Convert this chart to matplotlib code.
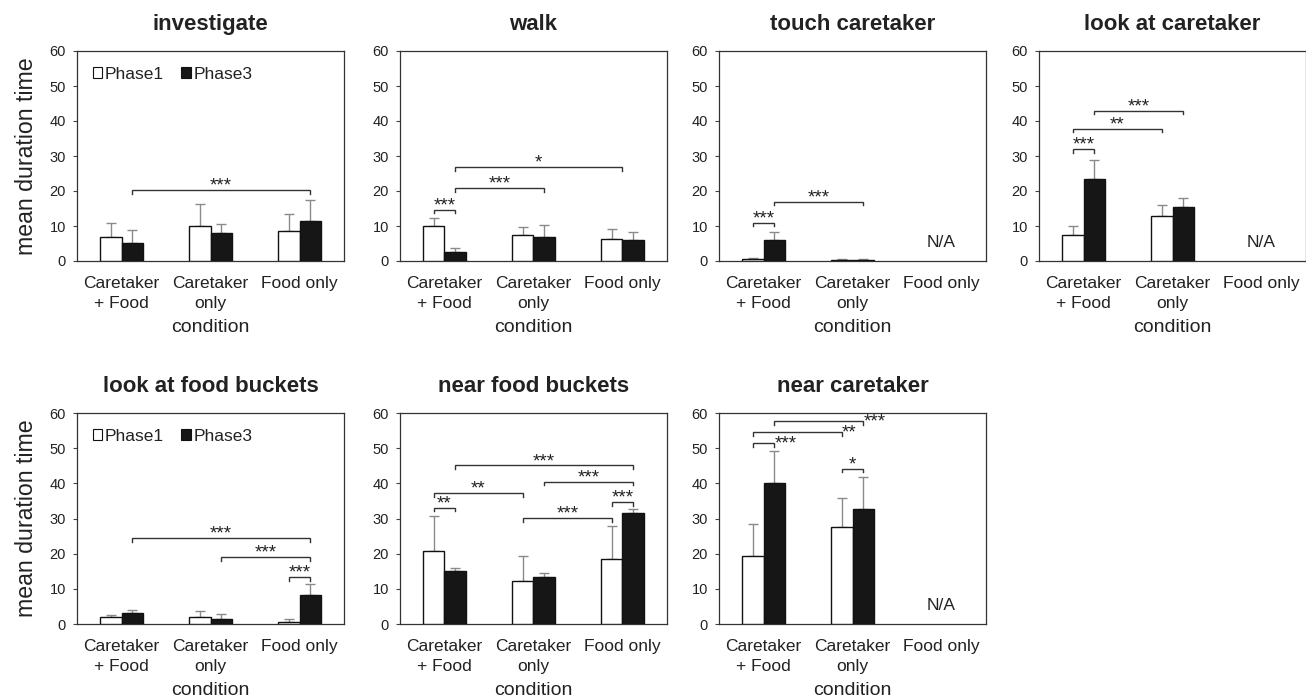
import numpy as np
import matplotlib
matplotlib.use("Agg")
import matplotlib.pyplot as plt
from matplotlib.patches import Patch

plt.rcParams['font.family'] = ['Liberation Sans', 'DejaVu Sans']

categories = ["Caretaker\n+ Food", "Caretaker\nonly", "Food only"]
series_names = ["Phase1", "Phase3"]
titles = ["investigate", "walk", "touch caretaker", "look at caretaker",
          "look at food buckets", "near food buckets", "near caretaker"]

nan = np.nan
# means and upper error (SD) per panel
investigate_p1 = [6.8, 10.1, 8.7];   investigate_p1_err = [4.2, 6.1, 4.8]
investigate_p3 = [5.2, 8.0, 11.4];   investigate_p3_err = [3.8, 2.7, 5.9]
walk_p1 = [10.0, 7.5, 6.4];          walk_p1_err = [2.2, 2.3, 2.8]
walk_p3 = [2.6, 7.0, 5.9];           walk_p3_err = [1.2, 3.3, 2.3]
touch_p1 = [0.6, 0.3, nan];          touch_p1_err = [0.4, 0.2, nan]
touch_p3 = [5.9, 0.3, nan];          touch_p3_err = [2.4, 0.2, nan]
lookcare_p1 = [7.5, 13.0, nan];      lookcare_p1_err = [2.5, 3.0, nan]
lookcare_p3 = [23.4, 15.4, nan];     lookcare_p3_err = [5.6, 2.6, nan]
lookfood_p1 = [2.1, 1.9, 0.7];       lookfood_p1_err = [0.5, 1.8, 0.7]
lookfood_p3 = [3.0, 1.5, 8.2];       lookfood_p3_err = [1.0, 1.3, 3.1]
nearfood_p1 = [20.9, 12.3, 18.4];    nearfood_p1_err = [9.9, 7.1, 9.4]
nearfood_p3 = [15.1, 13.5, 31.6];    nearfood_p3_err = [0.9, 1.1, 1.1]
nearcare_p1 = [19.3, 27.6, nan];     nearcare_p1_err = [9.1, 8.3, nan]
nearcare_p3 = [40.1, 32.8, nan];     nearcare_p3_err = [9.2, 9.1, nan]

# significance brackets: (category, phase) start, (category, phase) end, level, label
# phase None = group centre; label ending with 'r' = stars right of bracket
investigate_sig = [((0, 1), (2, 1), 20.2, "***")]
walk_sig = [((0, 0), (0, 1), 14.6, "***"), ((0, 1), (1, 1), 20.8, "***"),
            ((0, 1), (2, None), 26.8, "*")]
touch_sig = [((0, 0), (0, 1), 11.0, "***"), ((0, 1), (1, 1), 16.9, "***")]
lookcare_sig = [((0, 0), (0, 1), 32.0, "***"), ((0, 0), (1, 0), 37.8, "**"),
                ((0, 1), (1, 1), 43.0, "***")]
lookfood_sig = [((2, 0), (2, 1), 13.3, "***"), ((1, 1), (2, 1), 19.0, "***"),
                ((0, 1), (2, 1), 24.4, "***")]
nearfood_sig = [((0, 0), (0, 1), 33.0, "**"), ((0, 0), (1, 0), 37.2, "**"),
                ((1, 0), (2, 0), 30.1, "***"), ((2, 0), (2, 1), 34.6, "***"),
                ((1, 1), (2, 1), 40.5, "***"), ((0, 1), (2, 1), 45.1, "***")]
nearcare_sig = [((0, 0), (0, 1), 51.4, "***r"), ((0, 0), (1, 0), 54.5, "**r"),
                ((0, 1), (1, 1), 57.6, "***r"), ((1, 0), (1, 1), 44.2, "*")]

panels = [
    (investigate_p1, investigate_p1_err, investigate_p3, investigate_p3_err, investigate_sig),
    (walk_p1, walk_p1_err, walk_p3, walk_p3_err, walk_sig),
    (touch_p1, touch_p1_err, touch_p3, touch_p3_err, touch_sig),
    (lookcare_p1, lookcare_p1_err, lookcare_p3, lookcare_p3_err, lookcare_sig),
    (lookfood_p1, lookfood_p1_err, lookfood_p3, lookfood_p3_err, lookfood_sig),
    (nearfood_p1, nearfood_p1_err, nearfood_p3, nearfood_p3_err, nearfood_sig),
    (nearcare_p1, nearcare_p1_err, nearcare_p3, nearcare_p3_err, nearcare_sig),
]

W, H = 1306, 699
fig = plt.figure(figsize=(W / 100, H / 100), dpi=100)

lefts = [77, 400, 719, 1039]
row_tops = [51, 413]
row_bottoms = [261, 624]
aw = 267

txt = '#222222'
bw = 0.24
off = [-0.12, 0.12]

for i, (title, (p1, e1, p3, e3, sig)) in enumerate(zip(titles, panels)):
    r, c = divmod(i, 4)
    x0 = lefts[c]
    ax = fig.add_axes([x0 / W, 1 - row_bottoms[r] / H, aw / W,
                       (row_bottoms[r] - row_tops[r]) / H])
    x = np.arange(len(categories))
    for k, (vals, errs) in enumerate([(p1, e1), (p3, e3)]):
        vals = np.array(vals, float)
        errs = np.array(errs, float)
        mask = ~np.isnan(vals)
        fc = 'white' if k == 0 else '#161616'
        ax.bar(x[mask] + off[k], vals[mask], width=bw, color=fc,
               edgecolor='#111111', linewidth=1.0, zorder=3,
               label=series_names[k])
        ax.errorbar(x[mask] + off[k], vals[mask],
                    yerr=[np.zeros(mask.sum()), errs[mask]], fmt='none',
                    ecolor='#8a8a8a', elinewidth=1.0, capsize=3.5,
                    capthick=1.0, zorder=2)
    if np.isnan(p1[2]):
        ax.text(2, 5.2, "N/A", ha='center', va='center', fontsize=12.5,
                color=txt)

    for (a, b, y, lab) in sig:
        xa = a[0] + (off[a[1]] if a[1] is not None else 0)
        xb = b[0] + (off[b[1]] if b[1] is not None else 0)
        ax.plot([xa, xa, xb, xb], [y - 1.0, y, y, y - 1.0], color='#333333',
                lw=1.0, zorder=4, solid_joinstyle='miter')
        if lab.endswith('r'):
            ax.text(xb + 0.0, y - 2.6, lab[:-1], ha='left', va='bottom',
                    fontsize=13.5, color=txt)
        else:
            ax.text((xa + xb) / 2, y - 1.3, lab, ha='center', va='bottom',
                    fontsize=13.5, color=txt)

    ax.set_xlim(-0.5, 2.5)
    ax.set_ylim(0, 60)
    ax.set_yticks([0, 10, 20, 30, 40, 50, 60])
    ax.set_xticks(x)
    ax.set_xticklabels(categories, fontsize=12.5, color=txt, linespacing=1.4)
    ax.tick_params(axis='x', length=0, pad=11)
    ax.tick_params(axis='y', length=3, width=0.8, pad=5, labelsize=10.5,
                   labelcolor=txt, color='#444444')
    for s in ax.spines.values():
        s.set_color('#333333')
        s.set_linewidth(0.9)
    ax.set_xlabel("condition", fontsize=14, color=txt, labelpad=6)
    ax.set_title(title, fontsize=16, fontweight='bold', color=txt, pad=15)
    if c == 0:
        ax.set_ylabel("mean duration time", fontsize=16.7, color=txt, labelpad=8)
        handles = [Patch(facecolor='white', edgecolor='#111111', linewidth=0.8),
                   Patch(facecolor='#161616', edgecolor='#111111', linewidth=0.8)]
        ax.legend(handles, series_names, loc='upper left', ncol=2,
                  frameon=False, fontsize=12.5, handlelength=0.55,
                  handleheight=0.55, handletextpad=0.15, columnspacing=1.0,
                  bbox_to_anchor=(0.0, 1.0), labelcolor=txt)

fig.savefig("out.png", dpi=100)
